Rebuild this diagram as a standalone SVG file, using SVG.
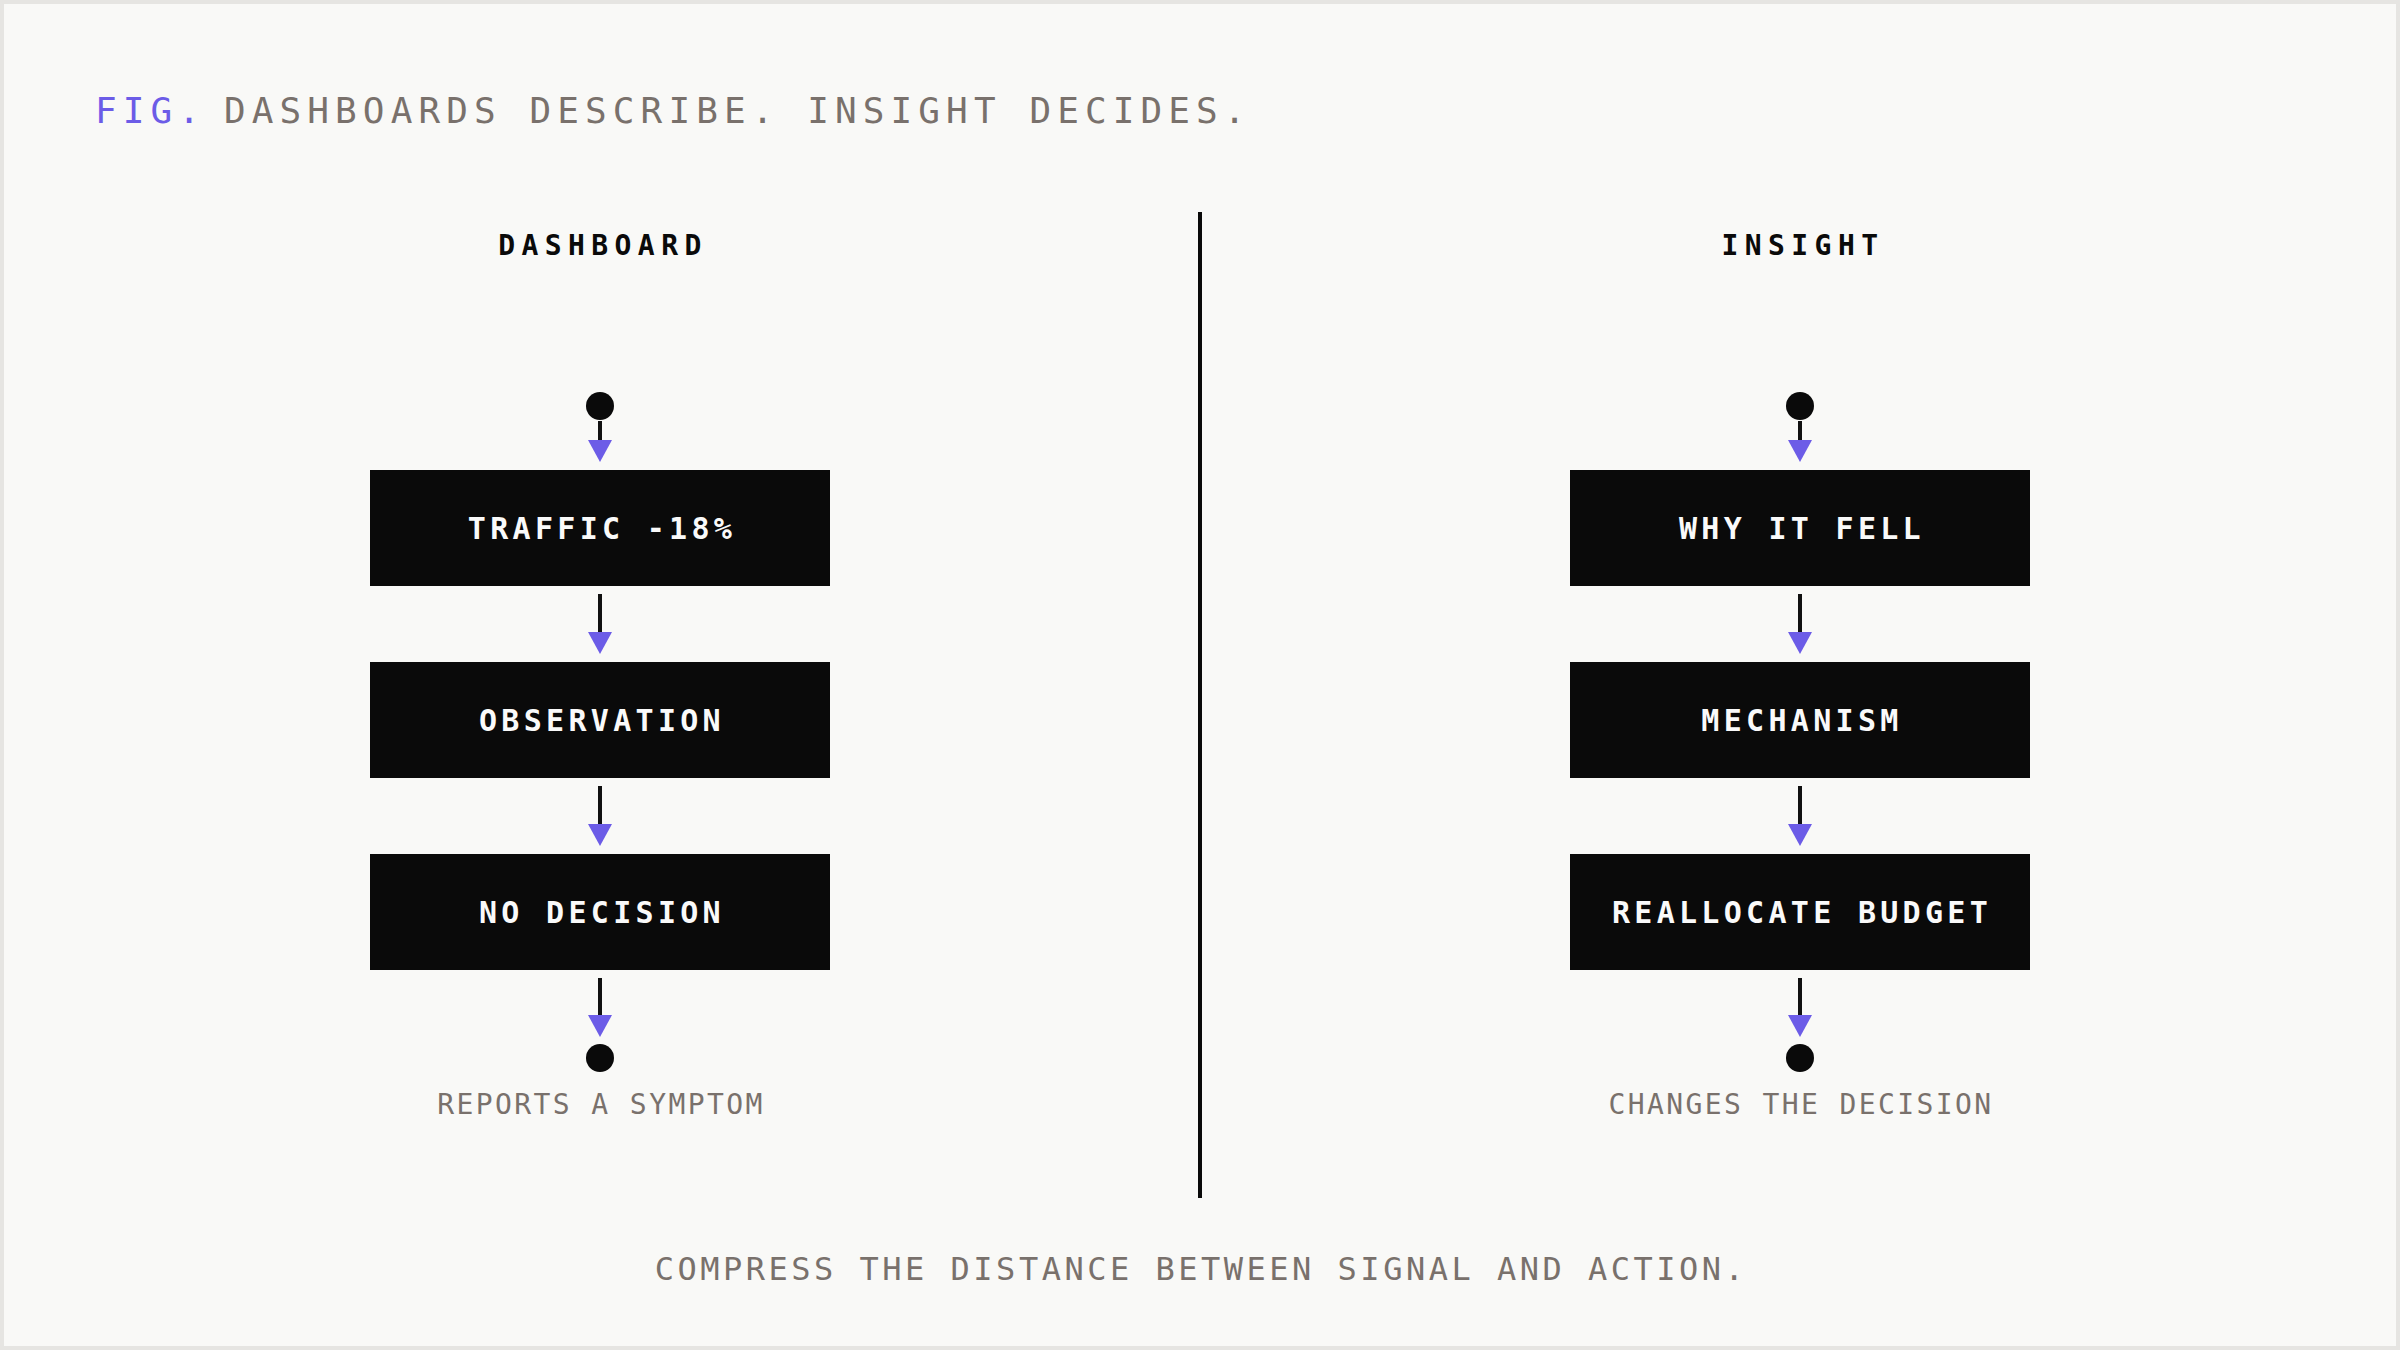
<svg xmlns="http://www.w3.org/2000/svg" width="2400" height="1350" viewBox="0 0 2400 1350">
  <defs>
    <style>
      .mono { font-family: "DejaVu Sans Mono", "Liberation Mono", monospace; }
      .title { font-size: 36px; letter-spacing: 6.1px; }
      .fig { fill: #6c5ce7; }
      .gray { fill: #79716c; }
      .head { font-size: 28px; font-weight: 700; fill: #0a0a0a; letter-spacing: 6.4px; text-anchor: middle; }
      .box { fill: #0a0a0a; }
      .label { font-size: 30px; font-weight: 700; fill: #fafafa; letter-spacing: 4.3px; text-anchor: middle; }
      .sub { font-size: 28px; fill: #79716c; letter-spacing: 2.4px; text-anchor: middle; }
      .foot { font-size: 32px; fill: #79716c; letter-spacing: 3.5px; text-anchor: middle; }
      .dot { fill: #0a0a0a; }
      .conn { stroke: #111111; stroke-width: 4; fill: none; }
      .divider { stroke: #0a0a0a; stroke-width: 4; }
    </style>
    <marker id="arrow" viewBox="0 0 22 24" refX="0" refY="12" markerWidth="22" markerHeight="24" markerUnits="userSpaceOnUse" orient="auto">
      <path d="M0,0 L22,12 L0,24 Z" fill="#6c5ce7"/>
    </marker>
  </defs>

  <rect x="0" y="0" width="2400" height="1350" fill="#e6e5e2"/>
  <rect x="4" y="4" width="2392" height="1342" fill="#f9f9f7"/>

  <g id="title">
    <text class="mono title fig" x="95" y="123">FIG.</text>
    <text class="mono title gray" x="224" y="123">DASHBOARDS DESCRIBE. INSIGHT DECIDES.</text>
  </g>

  <line id="divider" class="divider" x1="1200" y1="212" x2="1200" y2="1198"/>

  <g id="header-dashboard"><text class="mono head" x="603" y="255">DASHBOARD</text></g>
  <g id="header-insight"><text class="mono head" x="1803" y="255">INSIGHT</text></g>

  <!-- Left column -->
  <g id="start-left"><circle class="dot" cx="600" cy="406" r="14"/></g>
  <g id="node-traffic">
    <rect class="box" x="370" y="470" width="460" height="116"/>
    <text class="mono label" x="602" y="539">TRAFFIC -18%</text>
  </g>
  <g id="node-observation">
    <rect class="box" x="370" y="662" width="460" height="116"/>
    <text class="mono label" x="602" y="731">OBSERVATION</text>
  </g>
  <g id="node-no-decision">
    <rect class="box" x="370" y="854" width="460" height="116"/>
    <text class="mono label" x="602" y="923">NO DECISION</text>
  </g>
  <g id="end-left">
    <circle class="dot" cx="600" cy="1058" r="14"/>
    <text class="mono sub" x="601" y="1114">REPORTS A SYMPTOM</text>
  </g>

  <!-- Right column -->
  <g id="start-right"><circle class="dot" cx="1800" cy="406" r="14"/></g>
  <g id="node-why">
    <rect class="box" x="1570" y="470" width="460" height="116"/>
    <text class="mono label" x="1802" y="539">WHY IT FELL</text>
  </g>
  <g id="node-mechanism">
    <rect class="box" x="1570" y="662" width="460" height="116"/>
    <text class="mono label" x="1802" y="731">MECHANISM</text>
  </g>
  <g id="node-reallocate">
    <rect class="box" x="1570" y="854" width="460" height="116"/>
    <text class="mono label" x="1802" y="923">REALLOCATE BUDGET</text>
  </g>
  <g id="end-right">
    <circle class="dot" cx="1800" cy="1058" r="14"/>
    <text class="mono sub" x="1801" y="1114">CHANGES THE DECISION</text>
  </g>

  <g id="connectors">
    <line class="conn" x1="600" y1="421" x2="600" y2="440" marker-end="url(#arrow)"/>
    <line class="conn" x1="600" y1="594" x2="600" y2="632" marker-end="url(#arrow)"/>
    <line class="conn" x1="600" y1="786" x2="600" y2="824" marker-end="url(#arrow)"/>
    <line class="conn" x1="600" y1="978" x2="600" y2="1015" marker-end="url(#arrow)"/>
    <line class="conn" x1="1800" y1="421" x2="1800" y2="440" marker-end="url(#arrow)"/>
    <line class="conn" x1="1800" y1="594" x2="1800" y2="632" marker-end="url(#arrow)"/>
    <line class="conn" x1="1800" y1="786" x2="1800" y2="824" marker-end="url(#arrow)"/>
    <line class="conn" x1="1800" y1="978" x2="1800" y2="1015" marker-end="url(#arrow)"/>
  </g>

  <g id="footer"><text class="mono foot" x="1201" y="1280">COMPRESS THE DISTANCE BETWEEN SIGNAL AND ACTION.</text></g>
</svg>
